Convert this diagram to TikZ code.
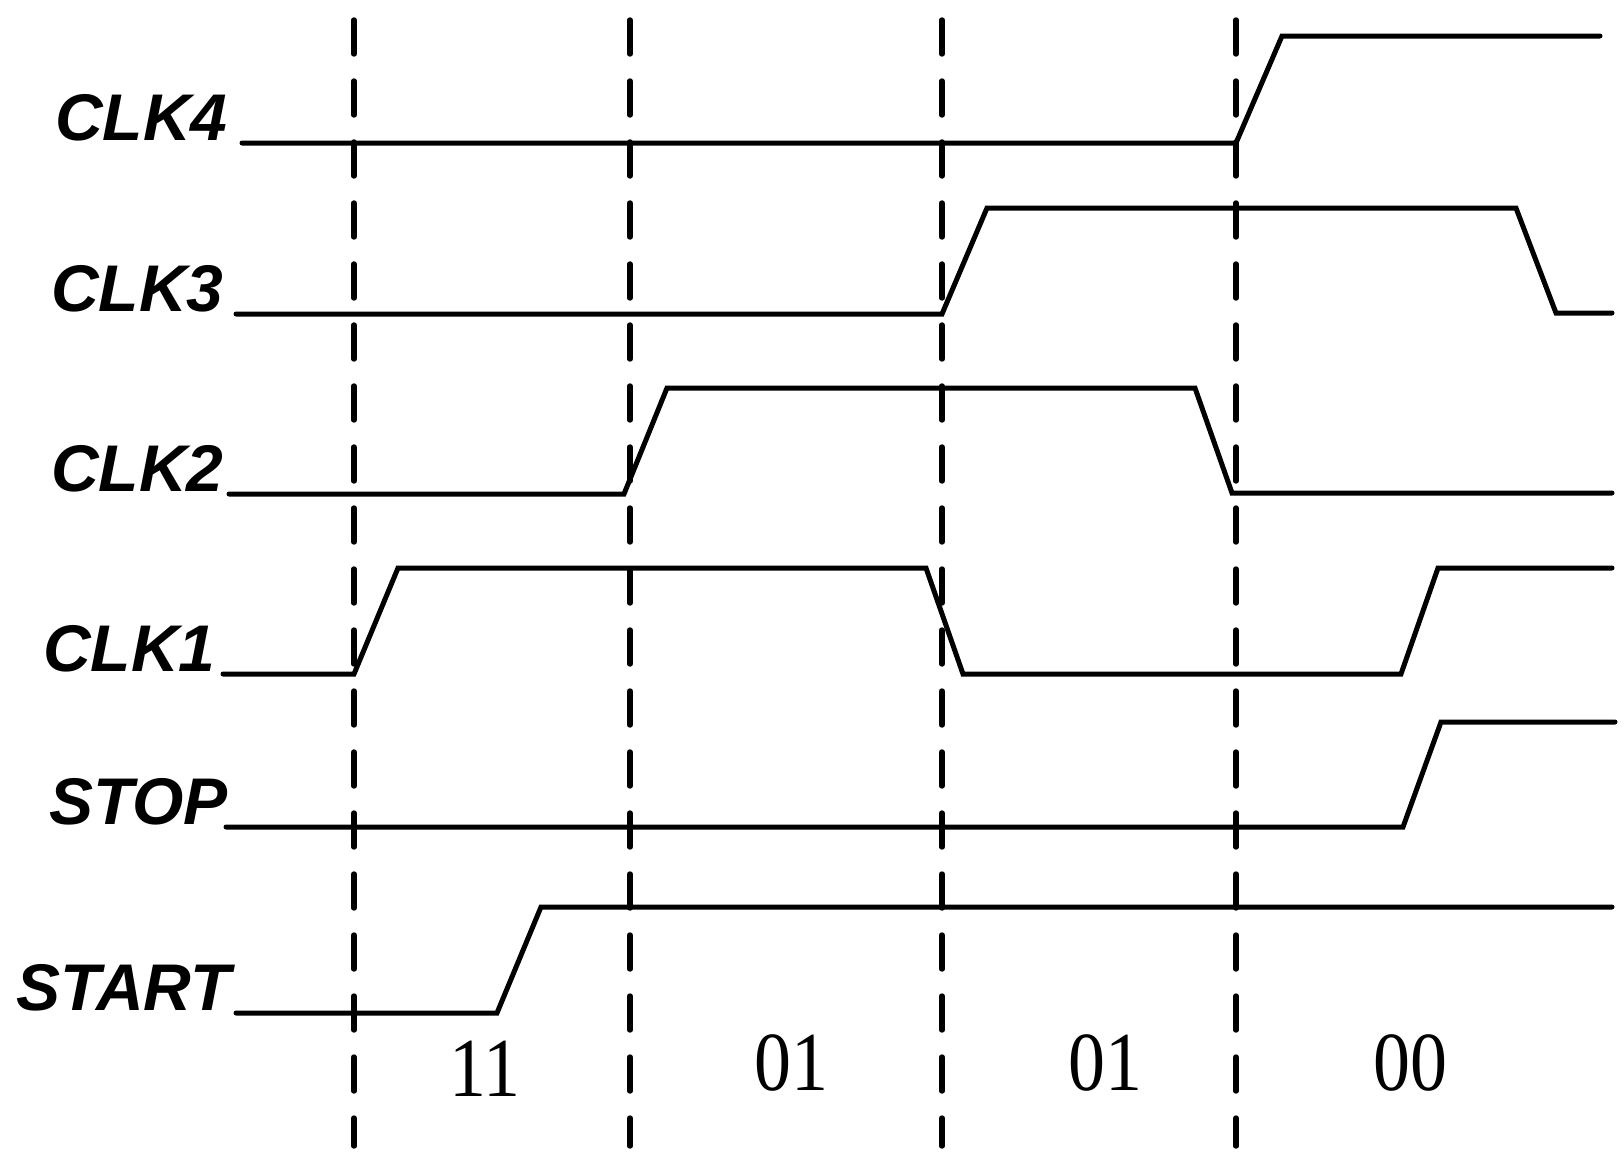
\documentclass[tikz,border=0pt]{standalone}
\usepackage{fontspec}
\setmainfont{Liberation Serif}
\newfontfamily\signalfont{Liberation Sans}
\usetikzlibrary{positioning}
\tikzset{wave/.style={
    line width=2.5pt,
    line cap=round,
    line join=miter
  },
  divider/.style={
    line width=2.7pt,
    line cap=round,
    dash pattern=on 17pt off 13.5pt
  },
  siglabel/.style={
    anchor=base east,
    inner sep=0pt,
    font=\signalfont\bfseries\itshape\fontsize{33}{33}\selectfont
  },
  code/.style={
    inner sep=0pt,
    font=\fontsize{42}{42}\selectfont
  }
}

\begin{document}
\begin{tikzpicture}[x=0.5pt,y=-0.5pt]
    \useasboundingbox (0,0) rectangle (1624,1157);
    % dashed time marks
    \foreach \t/\name in {354/d1,630/d2,942/d3,1236/d4} {
        \coordinate (\name top) at (\t,20);
        \coordinate (\name bot) at (\t,1146);
        \draw[divider] (\name top) -- (\name bot);
    }
    % signal names
    \node[siglabel] (clk4) at (228,140) {CLK4};
    \node[siglabel] (clk3) at (224,311) {CLK3};
    \node[siglabel] (clk2) at (224,491) {CLK2};
    \node[siglabel] (clk1) at (216,671) {CLK1};
    \node[siglabel] (stop) at (228,824) {STOP};
    \node[siglabel] (start) at (231,1010) {START};
    % waveforms
    \draw[wave] (242,143) -- (1236,143) -- (1282,36) -- (1600,36);
    \draw[wave] (236,314) -- (942,314) -- (987,208) -- (1516,208) -- (1556,313) -- (1612,313);
    \draw[wave] (229,494) -- (624,494) -- (667,388) -- (1195,388) -- (1232,493) -- (1612,493);
    \draw[wave] (223,674) -- (354,674) -- (398,568) -- (926,568) -- (963,674)
        -- (1401,674) -- (1438,568) -- (1612,568);
    \draw[wave] (226,827) -- (1403,827) -- (1441,722) -- (1615,722);
    \draw[wave] (236,1013) -- (497,1013) -- (541,907) -- (1612,907);
    % counter states
    \node[code] (s1) at (485,1069) {\scalebox{0.88}[1]{11}};
    \node[code] (s2) at (791,1063) {\scalebox{0.88}[1]{01}};
    \node[code] (s3) at (1105,1063) {\scalebox{0.88}[1]{01}};
    \node[code] (s4) at (1410,1063) {\scalebox{0.88}[1]{00}};
\end{tikzpicture}
\end{document}
